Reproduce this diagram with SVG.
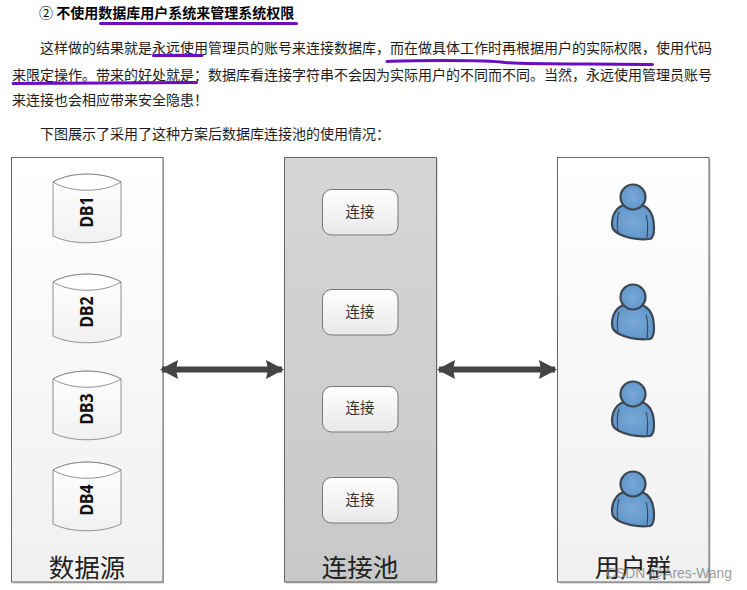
<svg xmlns="http://www.w3.org/2000/svg" width="747" height="590" viewBox="0 0 747 590">
<style>
text{font-family:"Noto Sans CJK SC","Liberation Sans",sans-serif;fill:#1c1c1c}
.p{font-size:14px}
.t{font-size:14px;font-weight:700;fill:#000}
.n{font-weight:400}
.u{fill:none;stroke:#6a0dc4;stroke-width:3;stroke-linecap:round}
.panel{stroke:#666;stroke-width:1}
.shadow{fill:#c4c4c4}
.h{font-size:25.500px;text-anchor:middle;fill:#222}
.c{font-size:14.500px;text-anchor:middle;fill:#333}
.db{font-family:"Noto Sans","Liberation Sans",sans-serif;font-size:17px;font-weight:700;text-anchor:middle;fill:#111}
.cyl{fill:url(#cy);stroke:#777;stroke-width:.8}
.top{fill:#fff;stroke:#777;stroke-width:.8}
.conn{fill:url(#cn);stroke:#777;stroke-width:1}
.arrow{stroke:#444;stroke-width:6;fill:none;marker-start:url(#ah);marker-end:url(#ah)}
.wm{font-family:"Liberation Sans",sans-serif;font-size:14.500px;fill:#8a8a8a;fill-opacity:.85}
.ps{stroke:#3c4650;stroke-width:2.200;stroke-linejoin:round;fill:url(#pb)}
.pl{fill:none;stroke:#3c4650;stroke-width:1.100}
</style>
<defs>
<linearGradient id="lg" x1="0" y1="0" x2="0" y2="1"><stop offset="0" stop-color="#fff"/><stop offset="1" stop-color="#f0f0f0"/></linearGradient>
<linearGradient id="mg" x1="0" y1="0" x2="0" y2="1"><stop offset="0" stop-color="#d6d6d6"/><stop offset="1" stop-color="#c8c8c8"/></linearGradient>
<linearGradient id="cy" x1="0" y1="0" x2="0" y2="1"><stop offset="0" stop-color="#fff"/><stop offset="1" stop-color="#f1f1f1"/></linearGradient>
<linearGradient id="cn" x1="0" y1="0" x2="0" y2="1"><stop offset="0" stop-color="#fff"/><stop offset="1" stop-color="#e8e8e8"/></linearGradient>
<radialGradient id="pb"><stop offset="0" stop-color="#7aa8d8"/><stop offset="1" stop-color="#6197cb"/></radialGradient>
<marker id="ah" viewBox="0 0 18 19" refX="16" refY="9.500" markerUnits="userSpaceOnUse" markerWidth="18" markerHeight="19" orient="auto-start-reverse"><path d="M0 0L18 9.500L0 19L2 9.500Z" fill="#444"/></marker>
<g id="cyl">
<path class="cyl" d="M0 8C18 -2.500 50 -2.500 68 8V62C50 71 18 71 0 62Z"/>
<path class="top" d="M0 8C18 -2.500 50 -2.500 68 8C50 19 18 19 0 8Z"/>
</g>
<g id="person">
<path class="ps" d="M-9 8C-16 10 -21 17 -21 27C-21 32 -19 34 -14 37C-6 41 6 43 17 42C20 41 21 36 21 31C21 20 17 11 9 8Z"/>
<path class="pl" d="M-14 15C-16 22 -16 30 -15 36M13 18C15 24 15 32 14 41"/>
<circle class="ps" r="12.500"/>
</g>
</defs>
<rect width="747" height="590" fill="#fff"/>

<g id="text">
<text class="t" x="39" y="18"><tspan class="n">②</tspan> 不使用数据库用户系统来管理系统权限</text>
<text class="p" x="40" y="53">这样做的结果就是永远使用管理员的账号来连接数据库，而在做具体工作时再根据用户的实际权限，使用代码</text>
<text class="p" x="12" y="80">来限定操作。带来的好处就是：数据库看连接字符串不会因为实际用户的不同而不同。当然，永远使用管理员账号</text>
<text class="p" x="12" y="105">来连接也会相应带来安全隐患！</text>
<text class="p" x="40" y="139">下图展示了采用了这种方案后数据库连接池的使用情况：</text>
</g>
<g id="underlines">
<path class="u" d="M100.500 23.500L296.500 23.500"/>
<path class="u" d="M153.500 55.500L202 55.500"/>
<path class="u" d="M387 61.500C400 60.500 485 59.500 505 62.500C530 64.500 600 63.500 652.500 64.500"/>
<path class="u" d="M13 83.500L196.500 82.500"/>
</g>

<g id="panel-source">
<rect class="shadow" x="13" y="159" width="151" height="424.500"/>
<rect class="panel" x="11.500" y="157.500" width="151.500" height="424.500" fill="url(#lg)"/>
<text class="h" x="87" y="577">数据源</text>
</g>
<g id="panel-pool">
<rect class="shadow" x="286" y="159" width="151.500" height="424.500"/>
<rect class="panel" x="284.500" y="157.500" width="152" height="424.500" fill="url(#mg)"/>
<text class="h" x="360" y="577">连接池</text>
</g>
<g id="panel-users">
<rect class="shadow" x="559" y="159" width="151.500" height="424.500"/>
<rect class="panel" x="557.500" y="157.500" width="151.500" height="424.500" fill="url(#lg)"/>
<text class="h" x="633" y="577">用户群</text>
</g>

<g id="db1"><use href="#cyl" x="53" y="174"/><text class="db" textLength="31" lengthAdjust="spacingAndGlyphs" transform="translate(93,212) rotate(-90)">DB1</text></g>
<g id="db2"><use href="#cyl" x="53" y="274"/><text class="db" textLength="31" lengthAdjust="spacingAndGlyphs" transform="translate(93,312) rotate(-90)">DB2</text></g>
<g id="db3"><use href="#cyl" x="53" y="371"/><text class="db" textLength="31" lengthAdjust="spacingAndGlyphs" transform="translate(93,409) rotate(-90)">DB3</text></g>
<g id="db4"><use href="#cyl" x="53" y="462"/><text class="db" textLength="31" lengthAdjust="spacingAndGlyphs" transform="translate(93,500) rotate(-90)">DB4</text></g>

<g id="conn1"><rect class="conn" x="322.500" y="189.500" width="75.500" height="45.500" rx="9"/><text class="c" x="360" y="217">连接</text></g>
<g id="conn2"><rect class="conn" x="322.500" y="289.500" width="75.500" height="45.500" rx="9"/><text class="c" x="360" y="317">连接</text></g>
<g id="conn3"><rect class="conn" x="322.500" y="386.500" width="75.500" height="45.500" rx="9"/><text class="c" x="360" y="413">连接</text></g>
<g id="conn4"><rect class="conn" x="322.500" y="477.500" width="75.500" height="45.500" rx="9"/><text class="c" x="360" y="505">连接</text></g>

<g id="user1"><use href="#person" x="633" y="197"/></g>
<g id="user2"><use href="#person" x="633" y="297"/></g>
<g id="user3"><use href="#person" x="633" y="394"/></g>
<g id="user4"><use href="#person" x="633" y="484"/></g>

<g id="connectors">
<path class="arrow" d="M162 369.500H282"/>
<path class="arrow" d="M439 369.500H555"/>
</g>
<text class="wm" x="606" y="578" textLength="126" lengthAdjust="spacingAndGlyphs">CSDN @Ares-Wang</text>
</svg>
